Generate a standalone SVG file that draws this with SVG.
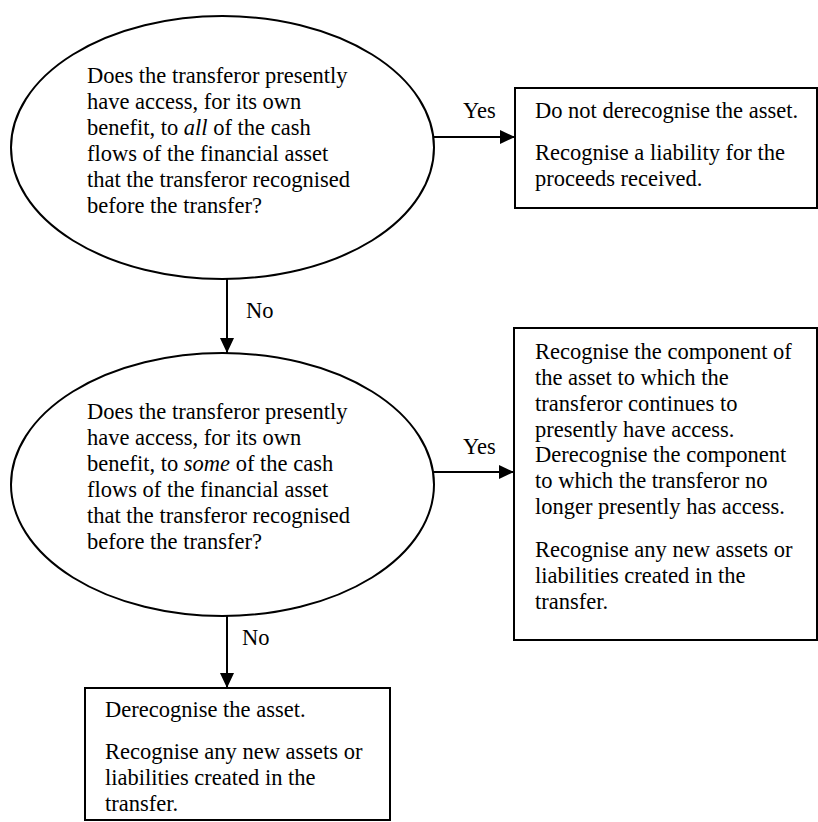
<svg xmlns="http://www.w3.org/2000/svg" width="818" height="822" viewBox="0 0 818 822">
<style>
.s{fill:#fff;stroke:#000;stroke-width:2}
.t{font-family:"Liberation Serif","Times New Roman",serif;font-size:22.5px;fill:#000}
.c{stroke:#000;stroke-width:2;fill:none}
</style>
<defs>
<marker id="a" markerUnits="userSpaceOnUse" markerWidth="16" markerHeight="14" refX="15" refY="7" orient="auto">
<path d="M0,0 L15,7 L0,14 Z" fill="#000"/>
</marker>
</defs>
<rect width="818" height="822" fill="#fff"/>
<g id="q1">
<ellipse class="s" cx="222.5" cy="147.5" rx="211.5" ry="131.5"/>
<text class="t" x="87" y="83">Does the transferor presently</text>
<text class="t" x="87" y="109">have access, for its own</text>
<text class="t" x="87" y="135">benefit, to <tspan font-style="italic">all</tspan> of the cash</text>
<text class="t" x="87" y="161">flows of the financial asset</text>
<text class="t" x="87" y="187">that the transferor recognised</text>
<text class="t" x="87" y="213">before the transfer?</text>
</g>
<g id="r1">
<rect class="s" x="515" y="88" width="302" height="120"/>
<text class="t" x="535" y="118">Do not derecognise the asset.</text>
<text class="t" x="535" y="160">Recognise a liability for the</text>
<text class="t" x="535" y="186">proceeds received.</text>
</g>
<g id="q2">
<ellipse class="s" cx="222.5" cy="484.5" rx="211.5" ry="131.5"/>
<text class="t" x="87" y="419">Does the transferor presently</text>
<text class="t" x="87" y="445">have access, for its own</text>
<text class="t" x="87" y="471">benefit, to <tspan font-style="italic">some</tspan> of the cash</text>
<text class="t" x="87" y="497">flows of the financial asset</text>
<text class="t" x="87" y="523">that the transferor recognised</text>
<text class="t" x="87" y="549">before the transfer?</text>
</g>
<g id="r2">
<rect class="s" x="514" y="328" width="303" height="312"/>
<text class="t" x="535" y="359">Recognise the component of</text>
<text class="t" x="535" y="385">the asset to which the</text>
<text class="t" x="535" y="411">transferor continues to</text>
<text class="t" x="535" y="437">presently have access.</text>
<text class="t" x="535" y="462">Derecognise the component</text>
<text class="t" x="535" y="488">to which the transferor no</text>
<text class="t" x="535" y="514">longer presently has access.</text>
<text class="t" x="535" y="557">Recognise any new assets or</text>
<text class="t" x="535" y="583">liabilities created in the</text>
<text class="t" x="535" y="609">transfer.</text>
</g>
<g id="r3">
<rect class="s" x="85" y="688" width="305" height="132"/>
<text class="t" x="105" y="717">Derecognise the asset.</text>
<text class="t" x="105" y="759">Recognise any new assets or</text>
<text class="t" x="105" y="785">liabilities created in the</text>
<text class="t" x="105" y="811">transfer.</text>
</g>
<g id="connectors">
<line class="c" x1="434" y1="137" x2="515" y2="137" marker-end="url(#a)"/>
<text class="t" x="463" y="118">Yes</text>
<line class="c" x1="434" y1="472" x2="514" y2="472" marker-end="url(#a)"/>
<text class="t" x="463" y="454">Yes</text>
<line class="c" x1="227" y1="279" x2="227" y2="353" marker-end="url(#a)"/>
<text class="t" x="246" y="318">No</text>
<line class="c" x1="227" y1="616" x2="227" y2="688" marker-end="url(#a)"/>
<text class="t" x="242" y="645">No</text>
</g>
</svg>
